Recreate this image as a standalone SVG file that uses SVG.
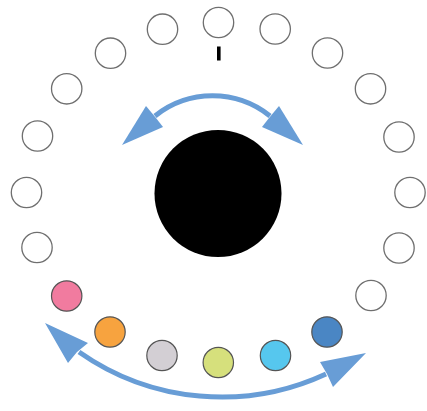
<svg xmlns="http://www.w3.org/2000/svg" width="427" height="411" viewBox="0 0 427 411">
  <style>
    .slot { fill: #ffffff; stroke: #6f6f6f; stroke-width: 1.3; }
    .col { stroke: #555555; stroke-width: 1.2; }
    .arc { fill: none; stroke: #689dd6; stroke-width: 5; }
    .head { fill: #689dd6; }
  </style>
  <rect width="427" height="411" fill="#ffffff"/>
  <g id="hub">
    <circle cx="218" cy="193.5" r="63.5" fill="#000000"/>
  </g>
  <g id="tick">
    <rect x="217" y="46.5" width="3.6" height="14" fill="#000000"/>
  </g>
  <g id="n0"><circle class="slot" cx="218.5" cy="22.5" r="15.2"/></g>
  <g id="n1"><circle class="slot" cx="275.2" cy="29" r="15.2"/></g>
  <g id="n2"><circle class="slot" cx="327.5" cy="53" r="15.2"/></g>
  <g id="n3"><circle class="slot" cx="370.5" cy="88.8" r="15.2"/></g>
  <g id="n4"><circle class="slot" cx="399" cy="137" r="15.2"/></g>
  <g id="n5"><circle class="slot" cx="410" cy="192.5" r="15.2"/></g>
  <g id="n6"><circle class="slot" cx="399" cy="248" r="15.2"/></g>
  <g id="n7"><circle class="slot" cx="371" cy="295.5" r="15.2"/></g>
  <g id="n8"><circle class="col" cx="327" cy="332" r="15.2" fill="#4a86c4"/></g>
  <g id="n9"><circle class="col" cx="275.5" cy="355.5" r="15.2" fill="#56c7ee"/></g>
  <g id="n10"><circle class="col" cx="218.3" cy="362.5" r="15.2" fill="#d6e07c"/></g>
  <g id="n11"><circle class="col" cx="162" cy="355.5" r="15.2" fill="#d3cfd4"/></g>
  <g id="n12"><circle class="col" cx="110" cy="332" r="15.2" fill="#f7a33f"/></g>
  <g id="n13"><circle class="col" cx="66.7" cy="296" r="15.2" fill="#f17b9f"/></g>
  <g id="n14"><circle class="slot" cx="37" cy="247.5" r="15.2"/></g>
  <g id="n15"><circle class="slot" cx="26.5" cy="192.5" r="15.2"/></g>
  <g id="n16"><circle class="slot" cx="37.5" cy="136" r="15.2"/></g>
  <g id="n17"><circle class="slot" cx="66.7" cy="88.8" r="15.2"/></g>
  <g id="n18"><circle class="slot" cx="110.5" cy="53.2" r="15.2"/></g>
  <g id="n19"><circle class="slot" cx="162.5" cy="29.2" r="15.2"/></g>
  <g id="connectors">
    <path class="arc" d="M155,116 A92,92 0 0 1 270,116"/>
    <polygon class="head" points="122,145 146,106 156,118 163,127"/>
    <polygon class="head" points="303,145 279,106 269,118 262,127"/>
    <path class="arc" d="M79,352 A248,248 0 0 0 326,374"/>
    <polygon class="head" points="45,323 88,343 77,352 68,363"/>
    <polygon class="head" points="366,353 320,362 327,374 333,387"/>
  </g>
</svg>
